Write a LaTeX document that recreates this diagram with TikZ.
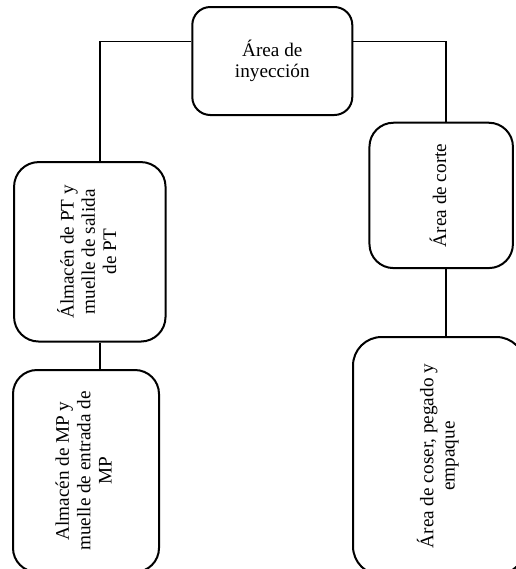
\documentclass[tikz,border=0pt]{standalone}
\usepackage{fontspec}
\usepackage{graphicx}
\setmainfont{Liberation Serif}
% text set upright along the box, reading bottom to top
\newcommand{\vtext}[1]{\rotatebox{90}{\begin{tabular}{@{}c@{}}#1\end{tabular}}}
\begin{document}
\begin{tikzpicture}[x=0.75pt,y=-0.75pt,
  box/.style={draw=black, line width=1.5pt, rectangle, inner sep=0pt,
    font=\fontsize{14.4}{16}\selectfont, align=center},
  link/.style={draw=black, line width=0.8pt}]
\useasboundingbox (0,0) rectangle (516,569);

\node[box, rounded corners=13.5pt, minimum width=120pt, minimum height=81pt]
  (iny) at (272.3,61) {Área de\\[-0.6pt]inyección};
\node[box, rounded corners=18.5pt, minimum width=113.6pt, minimum height=134.6pt]
  (pt) at (89.8,251.8) {\vtext{Álmacén de PT y\\muelle de salida\\de PT}};
\node[box, rounded corners=18pt, minimum width=109.5pt, minimum height=151.5pt]
  (mp) at (86,471) {\vtext{Almacén de MP y\\muelle de entrada de\\MP}};
\node[box, rounded corners=18pt, minimum width=107.6pt, minimum height=109pt]
  (corte) at (441.2,195.4) {\vtext{Área de corte}};
\node[box, rounded corners=21.5pt, minimum width=129pt, minimum height=178.5pt]
  (coser) at (439,456) {\vtext{Área de coser, pegado y\\empaque}};

% elbow points of the branches
\coordinate (lx) at (100,41.7);
\coordinate (rx) at (446,41.7);

\draw[link] (iny.west |- lx) -- (lx) -- (pt.north -| lx);
\draw[link] (pt.south -| lx) -- (mp.north -| lx);
\draw[link] (iny.east |- rx) -- (rx) -- (corte.north -| rx);
\draw[link] (corte.south -| rx) -- (coser.north -| rx);
\end{tikzpicture}
\end{document}
